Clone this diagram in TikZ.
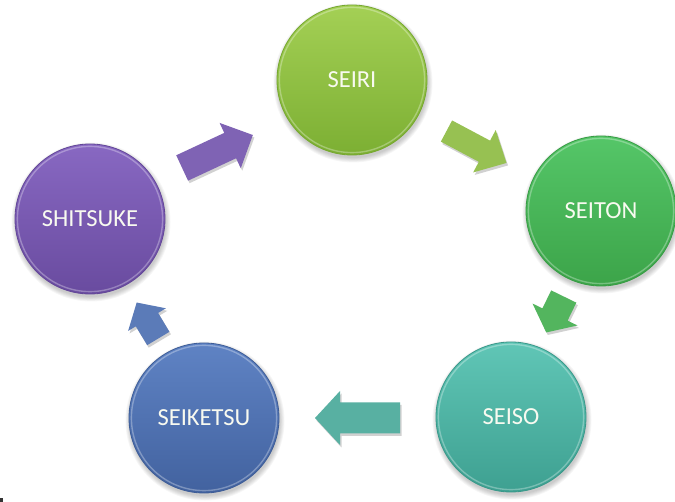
\documentclass[tikz,border=0pt]{standalone}
\usepackage{fontspec}
\setmainfont{Carlito}
\usetikzlibrary{calc}

% ball colours: top / bottom / edge
\definecolor{seiriT}{HTML}{A4D055}\definecolor{seiriB}{HTML}{7CAF33}\definecolor{seiriE}{HTML}{76A830}
\definecolor{seitonT}{HTML}{55C668}\definecolor{seitonB}{HTML}{3CA449}\definecolor{seitonE}{HTML}{389C45}
\definecolor{seisoT}{HTML}{60C6B6}\definecolor{seisoB}{HTML}{3EA091}\definecolor{seisoE}{HTML}{3A988A}
\definecolor{seikeT}{HTML}{5F83C4}\definecolor{seikeB}{HTML}{42629F}\definecolor{seikeE}{HTML}{3E5D97}
\definecolor{shitsT}{HTML}{8868C2}\definecolor{shitsB}{HTML}{694B9F}\definecolor{shitsE}{HTML}{634798}
% arrow colours
\definecolor{arPurple}{HTML}{7F63B4}
\definecolor{arLime}{HTML}{97C152}
\definecolor{arGreen}{HTML}{53B55E}
\definecolor{arTeal}{HTML}{58B0A2}
\definecolor{arBlue}{HTML}{5B7BB8}
\definecolor{labeltext}{HTML}{F8FAF0}

\tikzset{
  ball/.style={circle, minimum size=150pt, inner sep=0pt, line width=0.8pt,
    font=\fontsize{24.5}{28}\selectfont, text=labeltext},
  ballshadow/.style={fill=black, opacity=0.035},
  ballrim/.style={line width=1.4pt, white, opacity=0.3},
  arrowshadow/.style={fill=black, opacity=0.18},
}

% block arrow: centre x, y, page angle, length, shaft half width, head half width, head length, colour
\newcommand{\blockarrow}[8]{%
  \begin{scope}[shift={(#1+1.5,#2+2.5)}, rotate=#3]
    \fill[arrowshadow] ({-#4/2},{-#5}) -- ({#4/2-#7},{-#5}) -- ({#4/2-#7},{-#6}) -- ({#4/2},0)
      -- ({#4/2-#7},{#6}) -- ({#4/2-#7},{#5}) -- ({-#4/2},{#5}) -- cycle;
  \end{scope}
  \begin{scope}[shift={(#1,#2)}, rotate=#3]
    \fill[#8] ({-#4/2},{-#5}) -- ({#4/2-#7},{-#5}) -- ({#4/2-#7},{-#6}) -- ({#4/2},0)
      -- ({#4/2-#7},{#6}) -- ({#4/2-#7},{#5}) -- ({-#4/2},{#5}) -- cycle;
  \end{scope}}

\begin{document}
\begin{tikzpicture}[x=1pt, y=-1pt]
  \useasboundingbox[fill=white] (0,0) rectangle (675,502);

  % soft shadows below the balls
  \foreach \cx/\cy in {352/80, 601/211, 511/417, 204/418, 90/219}{
    \foreach \k in {0,...,5}{
      \fill[ballshadow] (\cx+1,\cy+3) circle ({75+\k*0.9});
    }
  }

  % the five balls
  \node[ball, top color=seiriT,  bottom color=seiriB,  draw=seiriE]  (seiri)    at (352,80)  {SEIRI};
  \node[ball, top color=seitonT, bottom color=seitonB, draw=seitonE] (seiton)   at (601,211) {SEITON};
  \node[ball, top color=seisoT,  bottom color=seisoB,  draw=seisoE]  (seiso)    at (511,417) {SEISO};
  \node[ball, top color=seikeT,  bottom color=seikeB,  draw=seikeE]  (seiketsu) at (204,418) {SEIKETSU};
  \node[ball, top color=shitsT,  bottom color=shitsB,  draw=shitsE]  (shitsuke) at (90,219)  {SHITSUKE};

  % light bevel just inside each rim
  \foreach \n in {seiri, seiton, seiso, seiketsu, shitsuke}{
    \draw[ballrim] (\n.center) circle (72.6pt);
  }

  % block arrows between the balls
  \blockarrow{217.5}{151.5}{25}{78}{14}{25}{25}{arPurple}
  \blockarrow{476.5}{147}{-28}{68}{12}{24}{25}{arLime}
  \blockarrow{555}{314.5}{-116}{40}{14}{25}{20}{arGreen}
  \blockarrow{357.5}{418}{180}{85}{15.5}{27}{25}{arTeal}
  \blockarrow{147.5}{320.5}{121}{42}{13}{22}{20}{arBlue}

  % small mark in the lower left corner
  \fill[black!80] (0,498) rectangle (3,502);
\end{tikzpicture}
\end{document}
